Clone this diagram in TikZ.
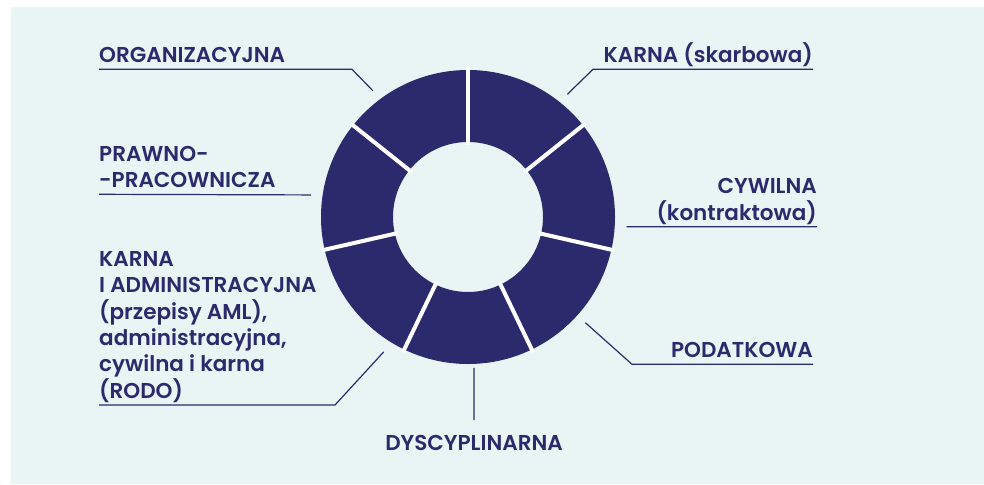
\documentclass[tikz,border=0pt]{standalone}
\usepackage{fontspec}
\setmainfont{Poppins}[UprightFont=* SemiBold]
\usetikzlibrary{positioning}
\definecolor{donutnavy}{HTML}{2B2A6C}
\definecolor{panelmint}{HTML}{E9F5F5}

\begin{document}
\begin{tikzpicture}[
    x=1pt, y=1pt,
    tag/.style={
        text=donutnavy,
        font=\fontsize{21.5}{26.4}\selectfont,
        inner sep=0pt,
        text depth=0pt
    },
    lefttag/.style={tag, align=left},
    righttag/.style={tag, align=right},
    leader/.style={
        draw=donutnavy,
        line width=1.2pt
    },
    slit/.style={
        draw=white,
        line width=4pt
    }
]

% Panel and frame
\useasboundingbox (0,0) rectangle (984,-484);
\fill[panelmint] (11,-7) rectangle (984,-484);

% Donut with seven equal sectors
\coordinate (ctr) at (468,-217);
\fill[donutnavy, even odd rule] (ctr) circle[radius=147] (ctr) circle[radius=75];
\foreach \k in {0,...,6} {
    \pgfmathsetmacro{\ang}{90-\k*360/7}
    \draw[slit] ([shift={(\ang:72)}]ctr) -- ([shift={(\ang:150)}]ctr);
}

% Leader anchors on the ring
\coordinate (p-org)  at ([shift={(127:158)}]ctr);
\coordinate (p-kar)  at ([shift={(51:158)}]ctr);
\coordinate (p-cyw)  at ([shift={(-3.5:159)}]ctr);
\coordinate (p-pod)  at ([shift={(-42:158)}]ctr);
\coordinate (p-dys)  at ([shift={(-87.7:151)}]ctr);
\coordinate (p-adm)  at ([shift={(-122:159)}]ctr);
\coordinate (p-pra)  at ([shift={(172:158.6)}]ctr);

% Bends and underline ends
\coordinate (b-org) at (352,-69.3);
\coordinate (u-org) at (99,-69.3);
\coordinate (b-kar) at (593,-69.3);
\coordinate (u-kar) at (813,-69.3);
\coordinate (u-cyw) at (817,-226.7);
\coordinate (b-pod) at (632,-364.3);
\coordinate (u-pod) at (813,-364.3);
\coordinate (e-dys) at (474,-420);
\coordinate (b-adm) at (335,-405);
\coordinate (u-adm) at (99,-405);
\coordinate (u-pra) at (99,-194.3);

% Labels
\node[lefttag, above right=6.5pt and 0pt of u-org] (org)
{ORGANIZACYJNA};

\node[lefttag, above right=6.5pt and 0pt of u-pra] (pra)
{PRAWNO-\\-PRACOWNICZA};

\node[lefttag, above right=6.5pt and 0pt of u-adm] (adm)
{KARNA\\I ADMINISTRACYJNA\\(przepisy AML),\\administracyjna,\\cywilna i karna\\(RODO)};

\node[righttag, above left=6.5pt and 0pt of u-kar] (kar)
{KARNA (skarbowa)};

\node[righttag, above left=6.5pt and 0pt of u-cyw] (cyw)
{CYWILNA\\(kontraktowa)};

\node[righttag, above left=6.5pt and 0pt of u-pod] (pod)
{PODATKOWA};

\node[tag, below=15pt of e-dys] (dys)
{DYSCYPLINARNA};

% Leaders
\draw[leader] (p-org) -- (b-org) -- (u-org);
\draw[leader] (p-kar) -- (b-kar) -- (u-kar);
\draw[leader] (p-cyw) -- (u-cyw);
\draw[leader] (p-pod) -- (b-pod) -- (u-pod);
\draw[leader] (p-dys) -- (e-dys);
\draw[leader] (p-adm) -- (b-adm) -- (u-adm);
\draw[leader] (p-pra) -- (u-pra);

\end{tikzpicture}
\end{document}
